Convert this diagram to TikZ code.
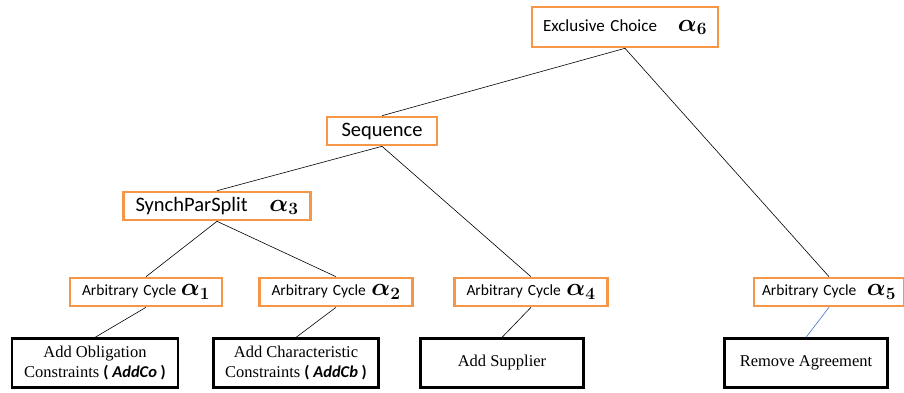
\documentclass[tikz,border=0pt]{standalone}
\usepackage{amsmath,bm}
\usepackage{fontspec}
\setmainfont{Liberation Serif}
\newfontfamily\calibri{Carlito}
\usetikzlibrary{positioning}
\definecolor{Orange}{HTML}{F79646}
\definecolor{LinkBlue}{HTML}{4472C4}
\newcommand{\alp}[1]{{\fontsize{26}{26}\selectfont$\bm{\alpha_{#1}}$}}
\newcommand{\oplabel}[2]{\makebox[\linewidth][l]{#1\hfill#2}}
\tikzset{
  op/.style={draw=Orange,fill=white,line width=2.6pt,inner xsep=0pt,inner ysep=0pt,minimum height=28pt,align=left,font=\calibri},
  leaf/.style={draw=black,fill=white,line width=2.2pt,minimum width=164pt,minimum height=49pt,align=center,font=\fontsize{16.5}{20}\selectfont},
  edge/.style={draw=black,line width=.6pt},
  blueedge/.style={draw=LinkBlue,line width=.6pt}
}

\begin{document}
\begin{tikzpicture}[x=1pt,y=-1pt]
  \useasboundingbox (0,0) rectangle (904,392);
  % operator nodes
  \node[op,minimum width=186pt,minimum height=40pt,text width=164pt,font=\calibri\fontsize{17}{17}\selectfont] (xor) at (625,27) {\oplabel{Exclusive Choice}{\alp{6}}};
  \node[op,minimum width=110pt,text width=110pt,align=center,font=\calibri\fontsize{20.5}{20}\selectfont] (seq) at (382,131) {Sequence};
  \node[op,minimum width=187pt,text width=163pt,font=\calibri\fontsize{20.5}{20}\selectfont] (sps) at (217,206) {\oplabel{SynchParSplit}{\alp{3}}};
  \node[op,minimum width=152pt,text width=128pt,font=\calibri\fontsize{15.5}{15}\selectfont] (ac1) at (146,292) {\oplabel{Arbitrary Cycle}{\alp{1}}};
  \node[op,minimum width=153pt,text width=129pt,font=\calibri\fontsize{15.5}{15}\selectfont] (ac2) at (336,292) {\oplabel{Arbitrary Cycle}{\alp{2}}};
  \node[op,minimum width=153pt,text width=129pt,font=\calibri\fontsize{15.5}{15}\selectfont] (ac4) at (531,292) {\oplabel{Arbitrary Cycle}{\alp{4}}};
  \node[op,minimum width=150pt,text width=134pt,font=\calibri\fontsize{15.5}{15}\selectfont] (ac5) at (829,292) {\oplabel{Arbitrary Cycle}{\alp{5}}};
  % tasks
  \node[leaf,minimum width=166pt] (obl) at (95,363) {Add Obligation\\Constraints {\calibri\bfseries( \itshape AddCo\upshape\ )}};
  \node[leaf,minimum width=165pt] (chr) at (296,363) {Add Characteristic\\Constraints {\calibri\bfseries( \itshape AddCb\upshape\ )}};
  \node[leaf,minimum width=163pt] (sup) at (502,363) {Add Supplier};
  \node[leaf,minimum width=163pt] (rem) at (806,363) {Remove Agreement};
  % links
  \draw[edge] (xor.south) -- (seq.north);
  \draw[edge] (xor.south) -- (ac5.north);
  \draw[edge] (seq.south) -- (sps.north);
  \draw[edge] (seq.south) -- (ac4.north);
  \draw[edge] (sps.south) -- (ac1.north);
  \draw[edge] (sps.south) -- (ac2.north);
  \draw[edge] (ac1.south) -- (obl.north);
  \draw[edge] (ac2.south) -- (chr.north);
  \draw[edge] (ac4.south) -- (sup.north);
  \draw[blueedge] (ac5.south) -- (rem.north);
\end{tikzpicture}
\end{document}
